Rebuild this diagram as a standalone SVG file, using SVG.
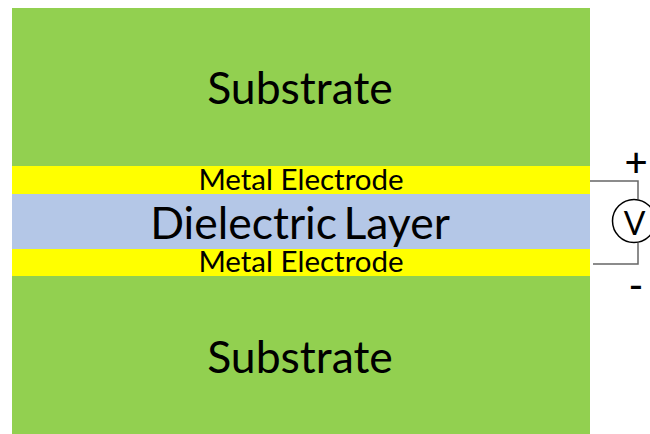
<svg xmlns="http://www.w3.org/2000/svg" width="650" height="434" viewBox="0 0 650 434">
<style>
text{font-family:"Lato","Open Sans",sans-serif;fill:#000;text-anchor:middle}
.w{fill:none;stroke:#666;stroke-width:1.5}
.big{font-size:44.5px}
.mid{font-size:29.5px}
</style>
<rect width="650" height="434" fill="#fff"/>
<g id="substrate-top"><rect x="12" y="8" width="578" height="158" fill="#92d050"/><text class="big" x="300" y="104">Substrate</text></g>
<g id="electrode-top"><rect x="12" y="166" width="578" height="28" fill="#ffff00"/><text class="mid" x="301" y="190">Metal Electrode</text></g>
<g id="dielectric"><rect x="12" y="194" width="578" height="55" fill="#b4c7e7"/><text class="big" x="300" y="238.500" word-spacing="-5">Dielectric Layer</text></g>
<g id="electrode-bottom"><rect x="12" y="249" width="578" height="27" fill="#ffff00"/><text class="mid" x="301" y="272">Metal Electrode</text></g>
<g id="substrate-bottom"><rect x="12" y="276" width="578" height="158" fill="#92d050"/><text class="big" x="300" y="373">Substrate</text></g>
<g id="connectors"><path class="w" d="M590 181H638V199M638 243V264H593"/></g>
<g id="voltmeter"><circle cx="634" cy="221" r="21.500" fill="#fff" stroke="#000" stroke-width="1.500"/><text x="634.500" y="235" font-size="32">V</text></g>
<g id="plus"><text x="636" y="176.500" font-size="40" font-weight="500">+</text></g>
<g id="minus"><text x="636" y="300" font-size="40" font-weight="500">-</text></g>
</svg>
